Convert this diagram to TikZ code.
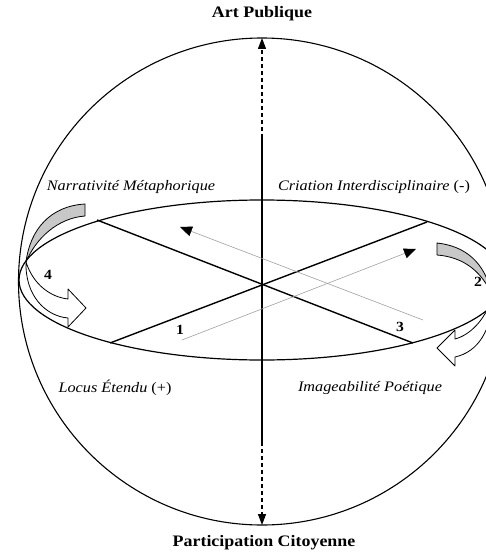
\documentclass[tikz,border=0pt]{standalone}
\usepackage{fontspec}
\setmainfont{Liberation Serif}
\newfontfamily\wideserif[FakeStretch=1.12]{Liberation Serif}
\usepackage{xcolor}
\usetikzlibrary{arrows.meta}
\definecolor{ribbonGray}{RGB}{200,200,200}
\definecolor{pathGray}{RGB}{160,160,160}

\tikzset{
  pole/.style={font=\wideserif\bfseries\fontsize{16}{18}\selectfont, inner sep=0pt},
  quadrant/.style={font=\wideserif\itshape\fontsize{14.5}{16}\selectfont, inner sep=0pt},
  stage/.style={font=\wideserif\bfseries\fontsize{14}{16}\selectfont, inner sep=0pt},
  axisdash/.style={line width=1.3pt, dash pattern=on 4pt off 3pt},
  pathline/.style={pathGray, line width=0.6pt, -{Triangle[length=12pt,width=10pt,color=black]}},
  ribbon/.style={draw=black, line width=0.8pt, line join=round}
}

\begin{document}
\begin{tikzpicture}[x=1pt,y=-1pt]
    \useasboundingbox (0,0) rectangle (486,556);
    \clip (0,0) rectangle (486,556);
    % sphere and equator
    \draw[line width=1.1pt] (262,281.5) circle[radius=243.5pt];
    \draw[line width=1.2pt] (262,280) ellipse[x radius=243pt, y radius=80pt];

    % points on the equator
    \coordinate (nw) at (97,220);
    \coordinate (ne) at (427,222);
    \coordinate (sw) at (110,343);
    \coordinate (se) at (413,343);
    \draw[line width=1.4pt] (nw) -- (se);
    \draw[line width=1.4pt] (ne) -- (sw);

    % vertical axis
    \coordinate (top) at (262,38);
    \coordinate (uppr) at (262,138);
    \coordinate (lowr) at (262,442);
    \coordinate (bot) at (262,525);
    \draw[line width=2.6pt] (uppr) -- (lowr);
    \draw[axisdash, -{Triangle[length=11pt,width=8pt]}] (uppr) -- (top);
    \draw[axisdash, -{Triangle[length=11pt,width=8pt]}] (lowr) -- (bot);

    % movement across the quadrants
    \coordinate (pa) at (423,320);
    \coordinate (pb) at (180,227);
    \coordinate (pc) at (182,340);
    \coordinate (pd) at (416,249);
    \draw[pathline] (pa) -- (pb);
    \draw[pathline] (pc) -- (pd);

    % left ribbon
    \filldraw[ribbon, fill=ribbonGray] (85,204) .. controls (50,206) and (30,230) .. (26,262)
        .. controls (36,238) and (58,218) .. (85,216) -- cycle;
    \filldraw[ribbon, fill=white] (26,262) .. controls (25,295) and (45,316) .. (68,318)
        -- (68,327) -- (86,308) -- (68,289) -- (68,299)
        .. controls (50,297) and (33,284) .. (26,262);
    % right ribbon
    \filldraw[ribbon, fill=ribbonGray] (437,243) .. controls (465,246) and (485,262) .. (492,295)
        .. controls (482,272) and (464,257) .. (437,255) -- cycle;
    \filldraw[ribbon, fill=white] (492,298) .. controls (492,330) and (478,352) .. (455,357)
        -- (455,366) -- (437,348) -- (455,330) -- (455,339)
        .. controls (470,335) and (485,320) .. (492,298);

    % labels
    \node[pole] (art) at (262,14) {Art Publique};
    \node[pole] (part) at (264,543) {Participation Citoyenne};
    \node[quadrant] (narr) at (131,187) {Narrativité Métaphorique};
    \node[quadrant] (crea) at (374,187) {Criation Interdisciplinaire {\upshape(-)}};
    \node[quadrant] (locus) at (115,388) {Locus Étendu {\upshape(+)}};
    \node[quadrant] (image) at (370,388) {Imageabilité Poétique};
    \node[stage] (s1) at (180,330) {1};
    \node[stage] (s2) at (478,282) {2};
    \node[stage] (s3) at (400,327) {3};
    \node[stage] (s4) at (48,275) {4};
\end{tikzpicture}
\end{document}
